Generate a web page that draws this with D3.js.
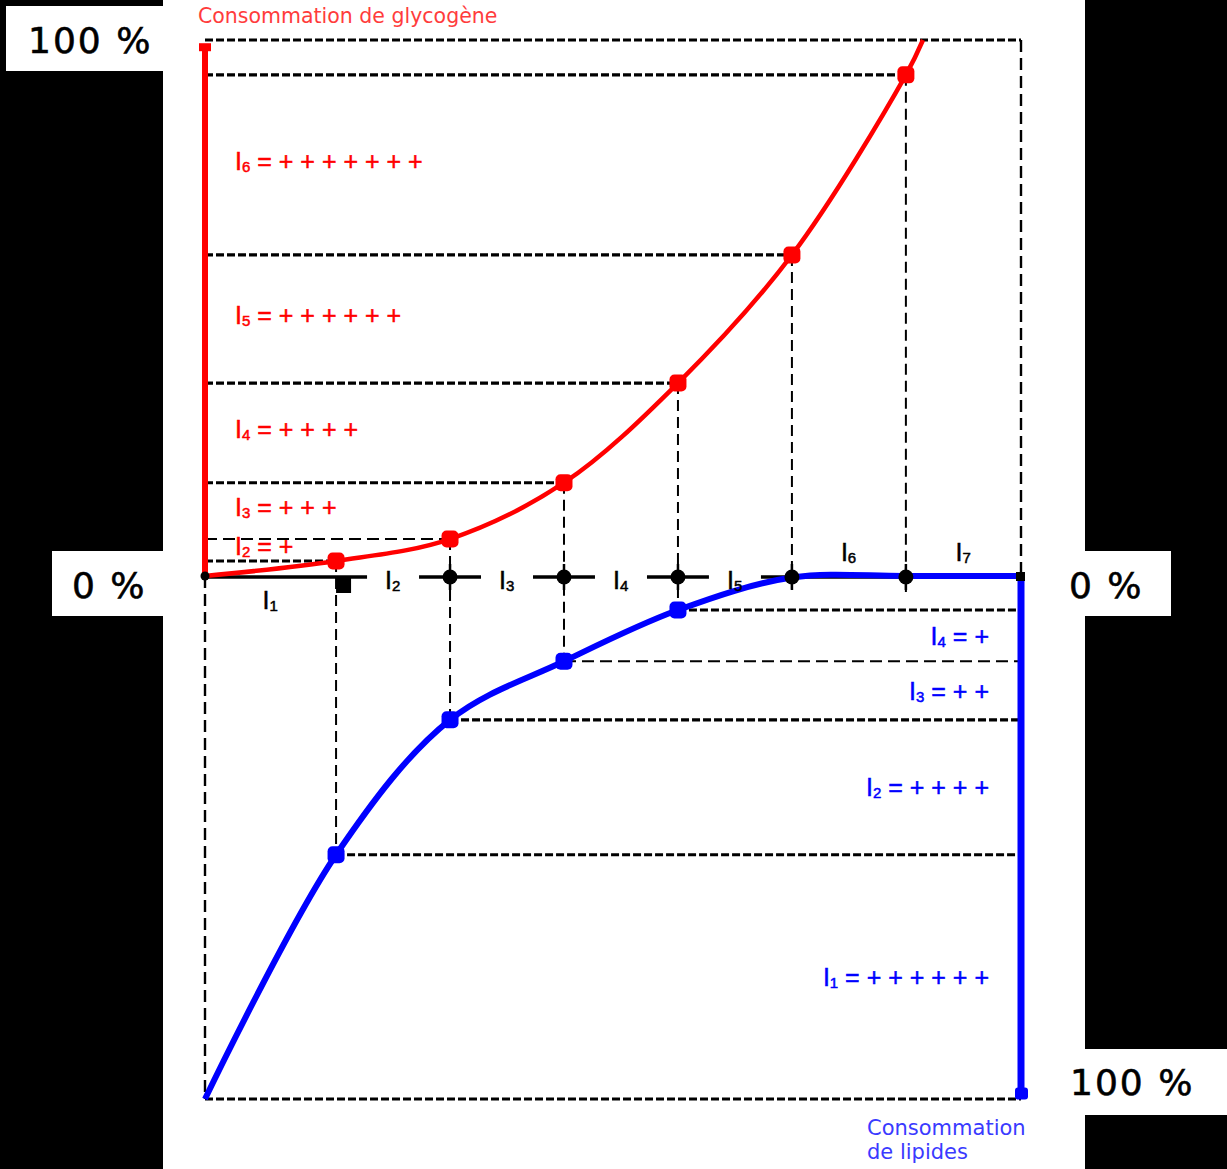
<!DOCTYPE html>
<html><head><meta charset="utf-8">
<script src="https://cdn.jsdelivr.net/npm/d3@7"></script>
<style>html,body{margin:0;padding:0;background:#000;overflow:hidden} svg{display:block}</style>
</head><body>
<svg id="c" width="1227" height="1169"></svg>
<script>
// ---------- DATA ----------
const intensityNames = ["1","2","3","4","5","6","7"];          // I1 .. I7 subscripts
const boundaries = [0, 1.15, 2.15, 3.15, 4.15, 5.15, 6.15, 7.16]; // intensity axis (arbitrary units)
const glycogen = [0, 2.8, 6.9, 17.4, 36.0, 59.9, 93.5];         // % glycogen use at boundaries
const glycogenEnd = [6.30, 100];                                 // curve reaches 100 %
const lipids = [100, 53.3, 27.5, 16.3, 6.5, 0.3, 0, 0];          // % lipid use at boundaries
const glycoPlus = [null, 1, 3, 4, 6, 7, null];                   // "+" count for I1..I7 (glycogen)
const lipidPlus = [6, 4, 2, 1, null, null, null];                // "+" count for I1..I7 (lipids)
const pctLabels = ["100 %", "0 %", "0 %", "100 %"];
const titleGlyco = "Consommation de glycogène";
const titleLipid = ["Consommation", "de lipides"];

// ---------- SETUP ----------
const svg = d3.select("#c");
const W = 1227, H = 1169;
const x = d3.scaleLinear().domain([0, 7.16]).range([205, 1021]);
const yG = d3.scaleLinear().domain([0, 100]).range([576, 40]);
const yL = d3.scaleLinear().domain([0, 100]).range([576, 1099]);
const RED = "#ff0000", BLUE = "#0000ff";
const x0 = x(0), xMax = x(7.16), y0 = yG(0);

svg.append("rect").attr("width", W).attr("height", H).attr("fill", "#000");
svg.append("rect").attr("x", 163).attr("y", 0).attr("width", 1085 - 163).attr("height", H).attr("fill", "#fff");

// percent label boxes
const boxes = [
  {x: 6, y: 6, w: 157, h: 65, tx: 28, ty: 53},
  {x: 52, y: 551, w: 111, h: 65, tx: 72, ty: 598},
  {x: 1060, y: 551, w: 111, h: 65, tx: 1069, ty: 598},
  {x: 1060, y: 1049, w: 167, h: 66, tx: 1070, ty: 1095}
];
boxes.forEach((b, i) => {
  svg.append("rect").attr("x", b.x).attr("y", b.y).attr("width", b.w).attr("height", b.h).attr("fill", "#fff");
  svg.append("text").attr("x", b.tx).attr("y", b.ty).text(pctLabels[i])
    .attr("font-family", "DejaVu Sans").attr("font-size", 36).attr("letter-spacing", 2)
    .attr("fill", "#000").attr("stroke", "#000").attr("stroke-width", 0.6);
});

const bumpy = {w: 3.2, d: "8,3"};
const thin = {w: 2, d: "12,6"};
function hline(xa, xb, y, st) {
  svg.append("line").attr("x1", xa).attr("x2", xb).attr("y1", y).attr("y2", y)
    .attr("stroke", "#000").attr("stroke-width", st.w).attr("stroke-dasharray", st.d);
}
function vline(xx, ya, yb, st) {
  svg.append("line").attr("x1", xx).attr("x2", xx).attr("y1", ya).attr("y2", yb)
    .attr("stroke", "#000").attr("stroke-width", st.w).attr("stroke-dasharray", st.d);
}

// frame dashed lines
hline(x0, xMax, yG(100), bumpy);
vline(xMax, yG(100), y0, {w: 2.4, d: "12,6"});
vline(x0, y0, yL(100), {w: 2.4, d: "12,6"});
hline(x0, xMax, yL(100), bumpy);

// glycogen level lines
for (let i = 1; i < glycogen.length; i++) {
  hline(x0, x(boundaries[i]), yG(glycogen[i]), i === 2 ? thin : bumpy);
}
// lipid level lines
for (let i = 1; i <= 4; i++) {
  hline(x(boundaries[i]), xMax, yL(lipids[i]), i === 3 ? thin : bumpy);
}
// vertical drop lines
for (let i = 1; i < glycogen.length; i++) {
  const yb = i <= 4 ? yL(lipids[i]) : y0 + 16;
  vline(x(boundaries[i]), yG(glycogen[i]), yb, {w: 2, d: "11,6"});
}

// axis with gaps for labels I2..I5
const mid = i => (boundaries[i] + boundaries[i + 1]) / 2;
const gapHalf = 26;
let segStart = x0;
[1, 2, 3, 4].forEach(i => {
  const c = x(mid(i));
  svg.append("line").attr("x1", segStart).attr("x2", c - gapHalf).attr("y1", y0 + 1).attr("y2", y0 + 1)
    .attr("stroke", "#000").attr("stroke-width", 3.5);
  segStart = c + gapHalf;
});
svg.append("line").attr("x1", segStart).attr("x2", xMax).attr("y1", y0 + 1).attr("y2", y0 + 1)
  .attr("stroke", "#000").attr("stroke-width", 3.5);

// red vertical bar
svg.append("line").attr("x1", x0).attr("x2", x0).attr("y1", y0).attr("y2", yG(99)).attr("stroke", RED).attr("stroke-width", 6);
svg.append("rect").attr("x", x0 - 6).attr("y", yG(99.4)).attr("width", 12).attr("height", 8).attr("fill", RED);

// glycogen curve
const curve = d3.curveCatmullRom.alpha(0.5);
const glyPts = boundaries.slice(0, glycogen.length).map((b, i) => [b, glycogen[i]]).concat([glycogenEnd]);
svg.append("path").datum(glyPts)
  .attr("d", d3.line().x(d => x(d[0])).y(d => yG(d[1])).curve(curve))
  .attr("fill", "none").attr("stroke", RED).attr("stroke-width", 4.5);

// lipid curve
const lipPts = boundaries.map((b, i) => [b, lipids[i]]);
svg.append("path").datum(lipPts)
  .attr("d", d3.line().x(d => x(d[0])).y(d => yL(d[1])).curve(curve))
  .attr("fill", "none").attr("stroke", BLUE).attr("stroke-width", 6);

// blue vertical bar
svg.append("line").attr("x1", xMax).attr("x2", xMax).attr("y1", y0).attr("y2", yL(98)).attr("stroke", BLUE).attr("stroke-width", 7);
svg.append("rect").attr("x", xMax - 6).attr("y", yL(97.8)).attr("width", 13).attr("height", 12).attr("rx", 3).attr("fill", BLUE);

// black marks on axis
for (let i = 2; i <= 6; i++) {
  const cx = x(boundaries[i]);
  svg.append("line").attr("x1", cx).attr("x2", cx).attr("y1", y0 - 12).attr("y2", y0 + 14).attr("stroke", "#000").attr("stroke-width", 2.5);
  svg.append("circle").attr("cx", cx).attr("cy", y0 + 1).attr("r", 7.5).attr("fill", "#000");
}
svg.append("rect").attr("x", x(boundaries[1])).attr("y", y0 + 2).attr("width", 15).attr("height", 15).attr("fill", "#000");
svg.append("circle").attr("cx", x0).attr("cy", y0).attr("r", 4.5).attr("fill", "#000");
svg.append("rect").attr("x", xMax - 5).attr("y", y0 - 4).attr("width", 9).attr("height", 9).attr("fill", "#000");

// markers
for (let i = 1; i < glycogen.length; i++) {
  svg.append("rect").attr("x", x(boundaries[i]) - 8.5).attr("y", yG(glycogen[i]) - 8.5)
    .attr("width", 17).attr("height", 17).attr("rx", 5).attr("fill", RED);
}
for (let i = 1; i <= 4; i++) {
  svg.append("rect").attr("x", x(boundaries[i]) - 8.5).attr("y", yL(lipids[i]) - 8.5)
    .attr("width", 17).attr("height", 17).attr("rx", 5).attr("fill", BLUE);
}

// text helpers
function ilabel(tx, ty, sub, rest, color, size, anchor) {
  const t = svg.append("text").attr("x", tx).attr("y", ty).attr("fill", color)
    .attr("font-family", "Liberation Sans, Arial, sans-serif").attr("font-size", size)
    .attr("stroke", color).attr("stroke-width", 0.5)
    .attr("text-anchor", anchor || "start").attr("dominant-baseline", "central");
  t.append("tspan").text("I");
  t.append("tspan").attr("font-size", size * 0.6).attr("dy", size * 0.2).text(sub);
  if (rest) t.append("tspan").attr("dy", -size * 0.2).text(rest);
  return t;
}
const plusStr = n => " = " + Array(n).fill("+").join(" ");

// glycogen intensity labels (band between level i and i+1)
glycoPlus.forEach((n, i) => {
  if (n == null) return;
  const yc = yG((glycogen[i] + glycogen[i + 1]) / 2) - 4;
  ilabel(235, yc, intensityNames[i], plusStr(n), RED, 25);
});
// lipid intensity labels
lipidPlus.forEach((n, i) => {
  if (n == null) return;
  const yc = yL((lipids[i] + lipids[i + 1]) / 2);
  ilabel(989, yc, intensityNames[i], plusStr(n), BLUE, 25, "end");
});
// axis labels
intensityNames.forEach((s, i) => {
  const cx = x(mid(i)) - 8;
  const yc = i === 0 ? y0 + 24 : (i >= 5 ? y0 - 24 : y0 + 4);
  ilabel(cx, yc, s, null, "#000", 25);
});

// titles
svg.append("text").attr("x", 198).attr("y", 23).text(titleGlyco)
  .attr("font-family", "DejaVu Sans").attr("font-size", 20.5).attr("fill", "#ff3c3c");
titleLipid.forEach((s, i) => {
  svg.append("text").attr("x", 867).attr("y", 1135 + i * 24).text(s)
    .attr("font-family", "DejaVu Sans").attr("font-size", 21).attr("fill", "#3a3aff");
});
</script>
</body></html>
